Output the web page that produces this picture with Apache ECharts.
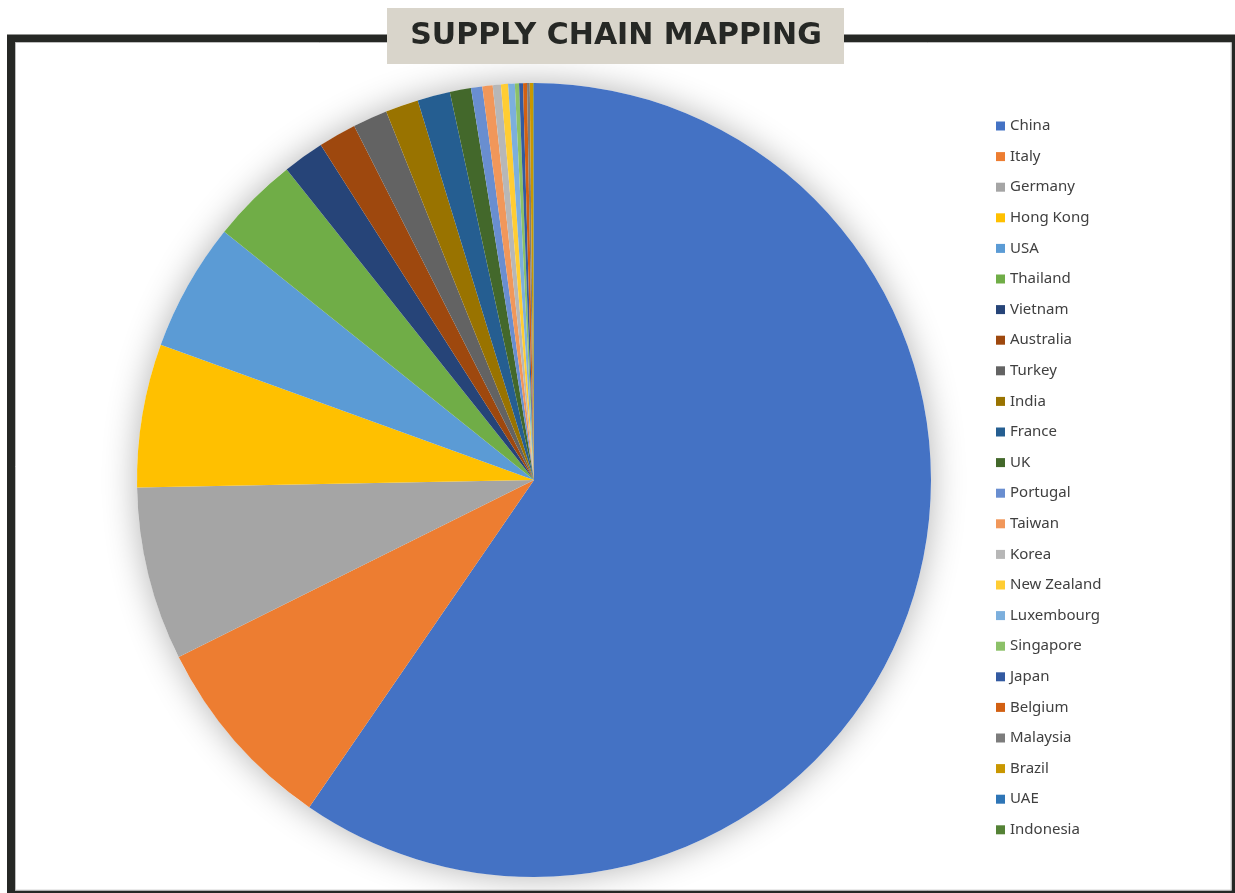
<!DOCTYPE html>
<html>
<head>
<meta charset="utf-8">
<script src="https://cdn.jsdelivr.net/npm/echarts@6/dist/echarts.min.js"></script>
<style>
html,body{margin:0;padding:0;background:#fff;}
#chart{width:1235px;height:893px;}
</style>
</head>
<body>
<div id="chart"></div>
<script>
var categories = ["China","Italy","Germany","Hong Kong","USA","Thailand","Vietnam","Australia","Turkey","India","France","UK","Portugal","Taiwan","Korea","New Zealand","Luxembourg","Singapore","Japan","Belgium","Malaysia","Brazil","UAE","Indonesia"];
var shares = [59.56,8.06,7.06,5.83,5.22,3.54,1.68,1.54,1.41,1.34,1.33,0.86,0.46,0.42,0.33,0.29,0.27,0.17,0.16,0.16,0.11,0.13,0.02,0.02];
var colors = ["#4472C4","#ED7D31","#A5A5A5","#FFC000","#5B9BD5","#70AD47","#264478","#9E480E","#636363","#997300","#255E91","#43682B","#698ED0","#F1975A","#B7B7B7","#FFCD33","#7CAFDD","#8CC168","#335AA1","#D26012","#7C7C7C","#C99700","#2E75B6","#548235"];
var titleText = "SUPPLY CHAIN MAPPING";

var chart = echarts.init(document.getElementById('chart'), null, {renderer:'canvas'});
var data = categories.map(function(c,i){ return {name:c, value:shares[i], itemStyle:{color:colors[i]}}; });

chart.setOption({
  animation:false,
  backgroundColor:'#ffffff',
  color: colors,
  legend:{
    orient:'vertical',
    left:991,
    top:113,
    itemWidth:9,
    itemHeight:9,
    itemGap:14.6,
    icon:'rect',
    data: categories,
    textStyle:{fontFamily:'Noto Sans', fontSize:15, lineHeight:16, color:'#404040', padding:[0,0,0,0]},
    selectedMode:false
  },
  graphic:[
    {type:'rect', z:0, silent:true, shape:{x:11, y:38.5, width:1224.7, height:856}, style:{fill:null, stroke:'#262825', lineWidth:8}},
    {type:'rect', z:1, silent:true, shape:{x:15.5, y:42.5, width:1215.7, height:847.7}, style:{fill:null, stroke:'#bdbdbd', lineWidth:1}},
    {type:'rect', z:10, silent:true, shape:{x:387, y:8, width:457, height:56}, style:{fill:'#D9D5CB'}},
    {type:'text', z:11, silent:true, x:616, y:36.5, style:{text:titleText, fontFamily:'DejaVu Sans', fontWeight:'bold', fontSize:30, fill:'#262825', textAlign:'center', textVerticalAlign:'middle'}}
  ],
  series:[
    {
      type:'pie', silent:true, z:1,
      center:[534,480], radius:[0,397],
      label:{show:false}, labelLine:{show:false},
      itemStyle:{color:'#ffffff', shadowBlur:34, shadowColor:'rgba(0,0,0,0.3)'},
      data:[{value:1, name:'__bg'}],
      legendHoverLink:false
    },
    {
      type:'pie', silent:true, z:2,
      center:[534,480], radius:[0,397],
      startAngle:90, clockwise:true,
      minAngle:0,
      avoidLabelOverlap:false,
      label:{show:false}, labelLine:{show:false},
      itemStyle:{borderWidth:0},
      emphasis:{disabled:true},
      data:data
    }
  ]
});
</script>
</body>
</html>
